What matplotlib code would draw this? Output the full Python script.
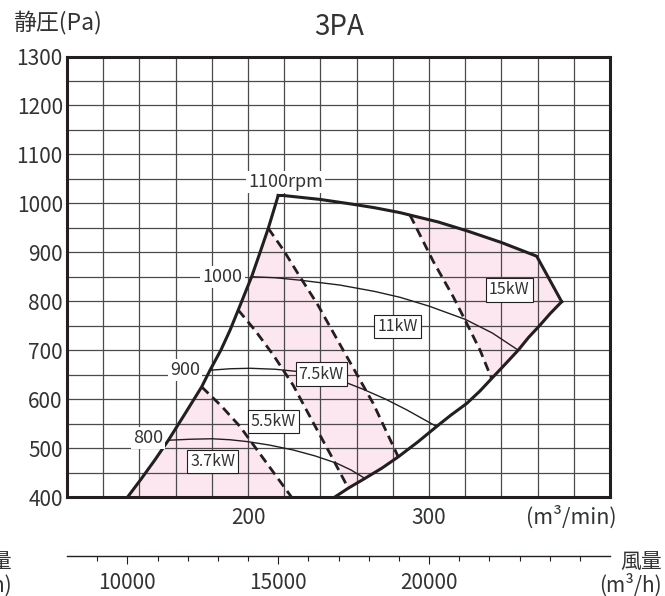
import numpy as np
import matplotlib
matplotlib.use('Agg')
import matplotlib.pyplot as plt

plt.rcParams['font.family'] = ['Noto Sans CJK JP', 'DejaVu Sans']

# outline of the operating range (m3/min, Pa)
surge_q = [133.5, 141.0, 148.6, 156.0, 165.0, 174.4, 179.0, 185.0, 190.1, 194.6, 202.0, 206.5, 211.2, 216.7]
surge_p = [400, 437, 476, 516, 569, 625, 659, 700, 741, 782, 850, 898, 949, 1016]
top_q = [216.7, 219.5, 239.8, 256.4, 270.0, 284.0, 289.5, 305.0, 320.8, 340.0, 359.5, 373.3]   # 1100rpm
top_p = [1016, 1016, 1008, 999, 991, 981, 976, 962, 944, 920, 892, 799]
low_q = [373.3, 367.0, 361.3, 355.0, 349.3, 342.0, 334.6, 328.0, 320.8, 312.0, 304.2, 294.0,
         283.0, 274.0, 264.6, 255.4, 248.0]
low_p = [799, 775, 751, 726, 700, 671, 642, 616, 591, 567, 544, 513, 482, 459, 438, 418, 400]

# rpm curves
rpm1000_q = [202.0, 215.0, 228.7, 250.8, 270.0, 284.0, 300.0, 320.0, 335.0, 349.3]
rpm1000_p = [850, 848, 843, 833, 820, 808, 790, 763, 735, 700]
rpm900_q = [179.0, 190.0, 201.1, 215.0, 228.7, 241.0, 252.7, 263.7, 276.0, 287.7, 304.2]
rpm900_p = [659, 662, 663, 661, 656, 648, 636, 620, 600, 578, 544]
rpm800_q = [156.0, 168.0, 180.0, 190.0, 200.0, 212.0, 225.0, 237.0, 249.0, 257.0, 264.6]
rpm800_p = [516, 518, 519, 517, 513, 506, 496, 484, 469, 455, 438]

# motor power limits (dashed)
d1_q = [174.4, 185.0, 195.6, 210.0, 224.0]
d1_p = [625, 587, 544, 471, 400]
d2_q = [194.6, 204.0, 214.0, 225.0, 236.0, 246.0, 255.4]
d2_p = [782, 740, 690, 628, 552, 484, 418]
d3_q = [211.2, 219.5, 228.7, 238.5, 250.0, 261.9, 269.2, 283.0]
d3_p = [949, 905, 850, 793, 717, 639, 591, 482]
d4_q = [289.5, 302.4, 313.4, 320.8, 328.2, 334.6]
d4_p = [976, 881, 809, 755, 700, 642]

rpm_labels = ['1100rpm', '1000', '900', '800']
rpm_label_q = [220.7, 186.0, 165.2, 144.9]
rpm_label_p = [1043, 850, 659, 520]
kw_labels = ['3.7kW', '5.5kW', '7.5kW', '11kW', '15kW']
kw_label_q = [180.4, 214.0, 240.5, 282.6, 344.3]
kw_label_p = [472, 554, 651, 748, 823]

ylabels = [400, 500, 600, 700, 800, 900, 1000, 1100, 1200, 1300]
xlabels = [200, 300]
h_major = [10000, 15000, 20000]

ink = '#231f20'
pink = '#fce6ef'

W, H = 665, 596
fig = plt.figure(figsize=(W / 100, H / 100), dpi=100)
ax = fig.add_axes([67 / W, 1 - 497 / H, 543 / W, 440.5 / H])
ax.set_xlim(100, 400)
ax.set_ylim(400, 1300)

ax.set_xticks(np.arange(100, 401, 20))
ax.set_xticklabels([str(v) if v in xlabels else '' for v in range(100, 401, 20)])
ax.set_yticks(np.arange(400, 1301, 50))
ax.set_yticklabels([str(v) if v in ylabels else '' for v in range(400, 1301, 50)])
ax.tick_params(length=0, labelsize=15, colors='#333333')
ax.tick_params(axis='y', pad=3)
ax.tick_params(axis='x', pad=7)
ax.grid(True, color='#4a4a4a', lw=0.9)
for s in ax.spines.values():
    s.set_linewidth(2.2)
    s.set_color(ink)


def j(*parts):
    q, p = [], []
    for pq, pp in parts:
        q += list(pq)
        p += list(pp)
    return q, p


def at(qs, ps, q, p):
    # position of a shared point inside an outline list
    for i, (a, b) in enumerate(zip(qs, ps)):
        if a == q and b == p:
            return i


# shaded bands
i1 = at(surge_q, surge_p, d1_q[0], d1_p[0])
a_q, a_p = j((surge_q[:i1 + 1], surge_p[:i1 + 1]), (d1_q[1:], d1_p[1:]))

i2 = at(surge_q, surge_p, d2_q[0], d2_p[0])
i3 = at(surge_q, surge_p, d3_q[0], d3_p[0])
k3 = at(low_q, low_p, d3_q[-1], d3_p[-1])
k2 = at(low_q, low_p, d2_q[-1], d2_p[-1])
b_q, b_p = j((surge_q[i2:i3 + 1], surge_p[i2:i3 + 1]), (d3_q[1:], d3_p[1:]),
             (low_q[k3 + 1:k2 + 1], low_p[k3 + 1:k2 + 1]),
             (d2_q[::-1][1:-1], d2_p[::-1][1:-1]))

i4 = at(top_q, top_p, d4_q[0], d4_p[0])
k4 = at(low_q, low_p, d4_q[-1], d4_p[-1])
c_q, c_p = j((top_q[i4:], top_p[i4:]), (low_q[1:k4 + 1], low_p[1:k4 + 1]),
             (d4_q[::-1][1:-1], d4_p[::-1][1:-1]))
for q, p in [(a_q, a_p), (b_q, b_p), (c_q, c_p)]:
    ax.fill(q, p, color=pink, lw=0, zorder=1)

for q, p in [(rpm1000_q, rpm1000_p), (rpm900_q, rpm900_p), (rpm800_q, rpm800_p)]:
    ax.plot(q, p, color=ink, lw=1.0, zorder=3)

for q, p in [(d1_q, d1_p), (d2_q, d2_p), (d3_q, d3_p), (d4_q, d4_p)]:
    ax.plot(q, p, color=ink, lw=2.0, ls=(0, (3.4, 2.0)), zorder=3)

for q, p in [(surge_q, surge_p), (top_q, top_p), (low_q, low_p)]:
    ax.plot(q, p, color=ink, lw=2.2, zorder=4, solid_joinstyle='miter')

for t, q, p in zip(rpm_labels, rpm_label_q, rpm_label_p):
    ax.text(q, p, t, ha='center', va='center', fontsize=13, color='#333333', zorder=5,
            bbox=dict(boxstyle='square,pad=0.12', fc='white', ec='none'))
for t, q, p in zip(kw_labels, kw_label_q, kw_label_p):
    ax.text(q, p, t, ha='center', va='center', fontsize=11.5, color='#333333', zorder=6,
            bbox=dict(boxstyle='square,pad=0.2', fc='white', ec=ink, lw=0.8))

# m3/h scale
ax2 = fig.add_axes([67 / W, 1 - 556 / H, 543 / W, 0.0001])
ax2.set_xlim(8000, 26000)
ax2.set_ylim(0, 1)
ax2.set_yticks([])
ax2.patch.set_visible(False)
for k in ['left', 'right', 'top']:
    ax2.spines[k].set_visible(False)
ax2.spines['bottom'].set_linewidth(1.0)
ax2.spines['bottom'].set_color(ink)
ax2.set_xticks(h_major)
ax2.set_xticks(np.arange(9000, 26000, 1000), minor=True)
ax2.tick_params(axis='x', which='major', direction='out', length=5.5, width=0.8,
                color=ink, labelsize=15, labelcolor='#333333', pad=6)
ax2.tick_params(axis='x', which='minor', direction='out', length=3.5, width=0.8, color=ink)

fig.text(339 / W, 1 - 27 / H, '3PA', ha='center', va='center', fontsize=20, color='#333333')
fig.text(13 / W, 1 - 23 / H, '静圧(Pa)', ha='left', va='center', fontsize=16.5, color='#333333')
fig.text(571 / W, 1 - 517 / H, '(m³/min)', ha='center', va='center', fontsize=15.5, color='#333333')
fig.text(620 / W, 1 - 562 / H, '風量', ha='left', va='center', fontsize=15, color='#333333')
fig.text(662 / W, 1 - 585 / H, '(m³/h)', ha='right', va='center', fontsize=15, color='#333333')
# labels of the neighbouring chart, cut by the left edge as in the source
fig.text(12 / W, 1 - 562 / H, '風量', ha='right', va='center', fontsize=15, color='#333333')
fig.text(12 / W, 1 - 585 / H, '(m³/h)', ha='right', va='center', fontsize=15, color='#333333')

fig.savefig('out.png', dpi=100)
